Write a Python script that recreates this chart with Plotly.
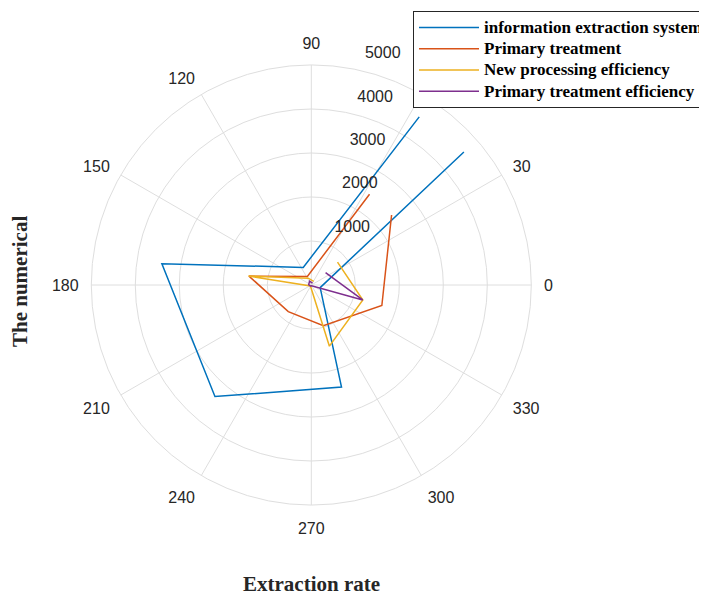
import plotly.graph_objects as go

# Angles (radians) shared by all series
theta_rad = [1, 2, 3, 4, 5, 6, 7]

info_extraction = [4540, 440, 3430, 3350, 2420, 210, 4600]
primary_treatment = [2450, 215, 1430, 800, 965, 1670, 2420]
new_processing_eff = [100, 170, 1440, 30, 1450, 1220, 790]
primary_treatment_eff = [50, 95, 60, 30, 20, 1217, 430]

series_names = ["information extraction system", "Primary treatment",
                "New processing efficiency", "Primary treatment efficiency"]
series_colors = ["#0072BD", "#D95319", "#EDB120", "#7E2F8E"]

angle_ticks = list(range(0, 360, 30))
angle_labels = [str(a) for a in angle_ticks]
radial_ticks = [1000, 2000, 3000, 4000, 5000]
radial_labels = [str(v) for v in radial_ticks]

# page body has an 8px margin: figure sized to fit the 707x595 window
OFF = 8
W, H = 707 - OFF, 595 - OFF
cx, cy, R = 311.3 - OFF, 285 - OFF, 220

fig = go.Figure()
for name, vals, col in zip(series_names,
                           [info_extraction, primary_treatment, new_processing_eff, primary_treatment_eff],
                           series_colors):
    fig.add_trace(go.Scatterpolar(
        r=vals, theta=theta_rad, thetaunit="radians", mode="lines",
        name='<span style="font-size:17px">' + name + '</span>',
        line=dict(color=col, width=1.5)))

grid = "#dedede"
fig.update_layout(
    width=W, height=H,
    margin=dict(l=0, r=0, t=0, b=0, autoexpand=False),
    paper_bgcolor="white",
    polar=dict(
        domain=dict(x=[(cx - R) / W, (cx + R) / W], y=[(H - cy - R) / H, (H - cy + R) / H]),
        bgcolor="white",
        angularaxis=dict(
            direction="counterclockwise", rotation=0,
            tickmode="array", tickvals=angle_ticks, ticktext=angle_labels,
            ticks="outside", ticklen=9, tickcolor="rgba(0,0,0,0)",
            showline=True, linecolor=grid, linewidth=1,
            gridcolor=grid, gridwidth=1,
            tickfont=dict(family="Liberation Sans, Arial", size=16, color="#262626")),
        radialaxis=dict(
            range=[0, 5000], angle=80, tickangle=80,
            tickmode="array", tickvals=radial_ticks,
            ticktext=[t + "<br> <br> " for t in radial_labels],
            ticks="outside", ticklen=4, tickcolor="rgba(0,0,0,0)",
            showline=False, gridcolor=grid, gridwidth=1,
            tickfont=dict(family="Liberation Sans, Arial", size=16, color="#262626")),
    ),
    legend=dict(
        x=(413 - OFF) / W, y=1 - (11 - OFF) / H, xanchor="left", yanchor="top",
        bordercolor="#262626", borderwidth=1, bgcolor="white",
        font=dict(family="Liberation Serif, Times New Roman", size=14, color="black", weight="bold"),
        itemwidth=60, tracegroupgap=0),
    annotations=[
        dict(text="<b>Extraction rate</b>", x=(311.7 - OFF) / W, y=(H - (584 - OFF)) / H,
             xref="paper", yref="paper",
             showarrow=False, xanchor="center", yanchor="middle",
             font=dict(family="Liberation Serif, Times New Roman", size=21, color="#262626")),
        dict(text="<b>The numerical</b>", x=(20 - OFF) / W, y=(H - (282 - OFF)) / H,
             xref="paper", yref="paper",
             showarrow=False, xanchor="center", yanchor="middle", textangle=-90,
             font=dict(family="Liberation Serif, Times New Roman", size=21, color="#262626")),
    ],
)

fig.write_html("out.html")
